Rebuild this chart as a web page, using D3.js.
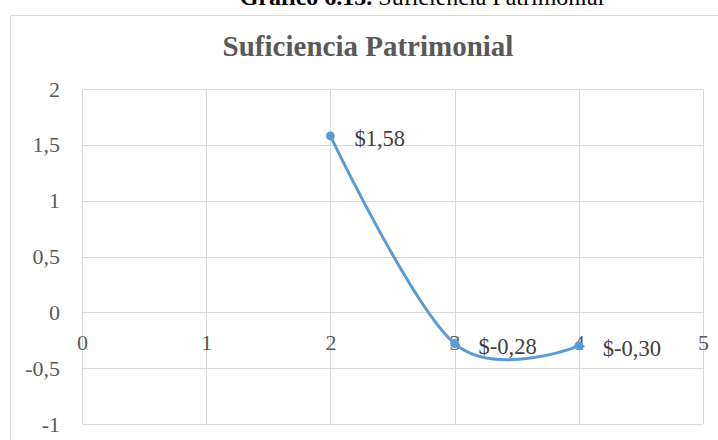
<!DOCTYPE html>
<html>
<head>
<meta charset="utf-8">
<script src="https://cdn.jsdelivr.net/npm/d3@7"></script>
<style>
  html, body { margin: 0; padding: 0; background: #fff; }
  svg { display: block; }
</style>
</head>
<body>
<svg id="chart" width="718" height="440"></svg>
<script>
// Suficiencia patrimonial por período
const periods = [2, 3, 4];
const values = [1.58, -0.28, -0.30];
const valueLabels = ["$1,58", "$-0,28", "$-0,30"];
const xTicks = [0, 1, 2, 3, 4, 5];
const yTicks = [-1, -0.5, 0, 0.5, 1, 1.5, 2];

const svg = d3.select("#chart");
const W = 718, H = 440;
const serif = "'Liberation Serif', 'Times New Roman', serif";
const gridColor = "#d9d9d9";
const textColor = "#595959";

svg.append("rect").attr("width", W).attr("height", H).attr("fill", "#fff");

// Caption above the chart frame
const cap = svg.append("text")
  .attr("x", 422).attr("y", 5)
  .attr("text-anchor", "middle")
  .attr("font-family", serif)
  .attr("font-size", 24)
  .attr("fill", "#000");
cap.append("tspan").attr("font-weight", "bold").text("Gráfico 6.15.");
cap.append("tspan").text(" Suficiencia Patrimonial");

// Chart frame
svg.append("rect")
  .attr("x", 10.5).attr("y", 15.5)
  .attr("width", W + 10).attr("height", H + 10)
  .attr("fill", "none")
  .attr("stroke", gridColor);

// Title
svg.append("text")
  .attr("x", 368).attr("y", 56)
  .attr("text-anchor", "middle")
  .attr("font-family", serif)
  .attr("font-weight", "bold")
  .attr("font-size", 29)
  .attr("fill", textColor)
  .text("Suficiencia Patrimonial");

const x = d3.scaleLinear().domain([0, 5]).range([82, 703]);
const y = d3.scaleLinear().domain([-1, 2]).range([424, 89]);

const fmt = d => String(d).replace(".", ",");

// Horizontal gridlines
svg.append("g")
  .attr("transform", "translate(82,0)")
  .call(d3.axisLeft(y).tickValues(yTicks).tickSize(-(703 - 82)).tickFormat(fmt).tickPadding(22))
  .call(g => g.select(".domain").remove())
  .call(g => g.selectAll(".tick line").attr("stroke", gridColor).attr("shape-rendering", "crispEdges"))
  .call(g => g.selectAll(".tick text")
    .attr("font-family", serif).attr("font-size", 22).attr("fill", textColor));

// Vertical gridlines
svg.append("g")
  .attr("transform", `translate(0,${y(-1)})`)
  .call(d3.axisBottom(x).tickValues(xTicks).tickSize(-(y(-1) - y(2))).tickFormat(""))
  .call(g => g.select(".domain").remove())
  .call(g => g.selectAll(".tick line").attr("stroke", gridColor).attr("shape-rendering", "crispEdges"));

// Horizontal axis labels sit just below the zero line
svg.append("g")
  .attr("transform", `translate(0,${y(0)})`)
  .call(d3.axisBottom(x).tickValues(xTicks).tickSize(0).tickFormat(d3.format("d")).tickPadding(22))
  .call(g => g.select(".domain").remove())
  .call(g => g.selectAll(".tick text")
    .attr("font-family", serif).attr("font-size", 22).attr("fill", textColor));

const pts = periods.map((p, i) => [p, values[i]]);

// Smoothed series line
svg.append("path")
  .datum(pts)
  .attr("fill", "none")
  .attr("stroke", "#5b9bd5")
  .attr("stroke-width", 3)
  .attr("stroke-linecap", "round")
  .attr("d", d3.line().x(d => x(d[0])).y(d => y(d[1])).curve(d3.curveCardinal.tension(0)));

svg.append("g").selectAll("circle")
  .data(pts)
  .join("circle")
  .attr("cx", d => x(d[0]))
  .attr("cy", d => y(d[1]))
  .attr("r", 4.5)
  .attr("fill", "#5b9bd5");

// Value labels to the right of each point
svg.append("g").selectAll("text")
  .data(pts)
  .join("text")
  .attr("x", d => x(d[0]) + 24)
  .attr("y", d => y(d[1]) + 10)
  .attr("font-family", serif)
  .attr("font-size", 22.5)
  .attr("fill", "#404040")
  .text((d, i) => valueLabels[i]);
</script>
</body>
</html>
